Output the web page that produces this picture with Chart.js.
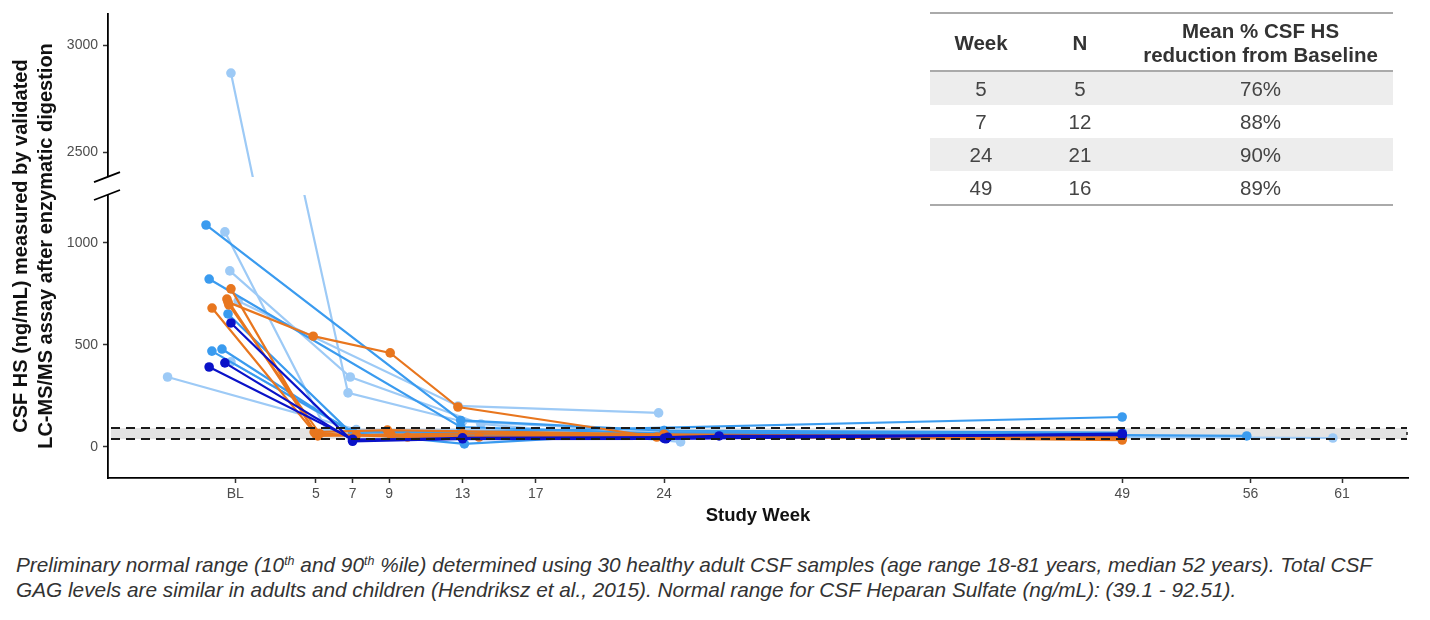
<!DOCTYPE html>
<html>
<head>
<meta charset="utf-8">
<script src="https://cdn.jsdelivr.net/npm/chart.js@4.4.0/dist/chart.umd.min.js"></script>
<style>
  body { margin: 0; background: #fff; font-family: "Liberation Sans", Arial, sans-serif; }
  #wrap { position: relative; width: 1430px; height: 535px; }
  #tbl { position: absolute; left: 930px; top: 12px; width: 463px; border-collapse: collapse;
         font-size: 20.5px; color: #444; border-top: 2px solid #aaa; border-bottom: 2px solid #aaa; }
  #tbl th { font-weight: bold; color: #333; height: 54px; line-height: 24px; padding: 2px 0 0 0;
            border-bottom: 2px solid #aaa; text-align: center; }
  #tbl td { height: 33px; padding: 0; text-align: center; }
  #tbl tr.alt td { background: #ededed; }
  #note { position: absolute; left: 16px; top: 552px; margin: 0; font-style: italic; font-size: 20.8px;
          line-height: 25px; color: #333; white-space: nowrap; }
  #note sup { font-size: 0.6em; vertical-align: 0.6em; line-height: 0; }
</style>
</head>
<body>
<div id="wrap">
  <canvas id="hsChart" width="1430" height="535"></canvas>
  <table id="tbl">
    <thead>
      <tr><th style="width:102px">Week</th><th style="width:96px">N</th><th>Mean % CSF HS<br>reduction from Baseline</th></tr>
    </thead>
    <tbody></tbody>
  </table>
</div>
<p id="note">Preliminary normal range (10<sup>th</sup> and 90<sup>th</sup> %ile) determined using 30 healthy adult CSF samples (age range 18-81 years, median 52 years). Total CSF<br>GAG levels are similar in adults and children (Hendriksz et al., 2015). Normal range for CSF Heparan Sulfate (ng/mL): (39.1 - 92.51).</p>

<script>
// axis ticks
const xTickValues = [0.6, 5, 7, 9, 13, 17, 24, 49, 56, 61];
const xTickLabels = ['BL', '5', '7', '9', '13', '17', '24', '49', '56', '61'];
const yLowTicks = [0, 500, 1000];
const yHighTicks = [2500, 3000];
const normalRange = [39.1, 92.51];

// table
const tableWeeks = [5, 7, 24, 49];
const tableN = [5, 12, 21, 16];
const tableReduction = ['76%', '88%', '90%', '89%'];

// subjects (group = colour cohort)
const subjectGroup = ['light', 'light', 'light', 'light', 'light', 'light',
                      'mid', 'mid', 'mid', 'mid', 'mid',
                      'orange', 'orange', 'orange', 'orange', 'orange',
                      'dark', 'dark', 'dark'];
const subjectWeeks = [
    [0.36, 6.75, 13.0, 24, 49],
    [0.03, 5.6, 13, 24, 49],
    [0.75, 12.75, 23.7],
    [0.3, 6.87, 14.0, 24.9],
    [0.36, 7, 13, 24, 49],
    [-3.1, 7.2, 24, 49, 60.5],
    [-1.0, 12.9, 24, 49],
    [-0.83, 12.9, 24, 49],
    [0.2, 7, 13, 24, 49, 55.8],
    [-0.13, 7, 13.1, 24, 49],
    [-0.68, 7, 12.9, 49],
    [0.2, 4.85, 9.05, 12.75, 23.6, 49],
    [0.36, 4.9, 8.9, 24, 49],
    [0.14, 5.1, 9.1, 13.9, 24, 49],
    [-0.67, 5.0, 10.0, 24, 49],
    [0.25, 5.2, 7.2, 13, 24],
    [0.36, 7, 13, 24, 49],
    [0.03, 7, 13, 24.2, 27, 49],
    [-0.83, 7, 24.1, 49]
];
const subjectValues = [
    [2869, 265, 125, 75, 60],
    [1054, 78, 62, 60, 55],
    [715, 201, 167],
    [863, 343, 113, 25],
    [417, 72, 55, 68, 62],
    [343, 85, 80, 50, 44],
    [1088, 130, 80, 70],
    [823, 98, 65, 62],
    [652, 62, 58, 52, 58, 54],
    [480, 68, 15, 70, 65],
    [470, 75, 72, 147],
    [710, 543, 461, 196, 49, 40],
    [775, 73, 83, 62, 45],
    [725, 54, 59, 49, 55, 34],
    [681, 62, 49, 58, 52],
    [696, 66, 58, 65, 60],
    [608, 28, 40, 42, 62],
    [412, 33, 45, 48, 54, 58],
    [392, 38, 40, 65]
];

// broken y axis: lower panel and upper panel ranges
const lowMin = -152, lowMax = 2122, lowBreak = 1235;
const highMin = 977, highMax = 3145, highBreak = 2383;

const groupColors = { light: '#9dcaf6', mid: '#3a9bef', orange: '#e8761e', dark: '#0a12c8' };
const groupOrder = { light: 4, mid: 3, orange: 2, dark: 1 };
const tickFont = { family: 'Liberation Sans', size: 14 };

function highToLow(v) {
    return lowMin + (v - highMin) * (lowMax - lowMin) / (highMax - highMin);
}
function lowToHigh(v) {
    return highMin + (v - lowMin) * (highMax - highMin) / (lowMax - lowMin);
}

// fill the table
const tbody = document.querySelector('#tbl tbody');
tableWeeks.forEach((w, i) => {
    const row = document.createElement('tr');
    if (i % 2 === 0) row.className = 'alt';
    [w, tableN[i], tableReduction[i]].forEach(t => {
        const cell = document.createElement('td');
        cell.textContent = t;
        row.appendChild(cell);
    });
    tbody.appendChild(row);
});

// each subject is drawn in both panels, each clipped to its own panel
const datasets = [];
['low', 'high'].forEach(panel => {
    subjectGroup.forEach((g, i) => {
        datasets.push({
            label: 'S' + (i + 1),
            panel: panel,
            yAxisID: panel === 'low' ? 'yLow' : 'yHigh',
            data: subjectWeeks[i].map((w, j) => ({ x: w, y: subjectValues[i][j] })),
            borderColor: groupColors[g],
            backgroundColor: groupColors[g],
            borderWidth: 2.2,
            pointRadius: 4.8,
            pointBorderWidth: 0,
            pointHoverRadius: 4.8,
            tension: 0,
            order: groupOrder[g]
        });
    });
});

const panelClip = {
    id: 'panelClip',
    beforeDatasetDraw(chart, args) {
        const ds = chart.data.datasets[args.index];
        let top = 0, bottom = chart.height;
        if (ds.panel === 'low') top = chart.scales.yLow.getPixelForValue(lowBreak);
        else bottom = chart.scales.yHigh.getPixelForValue(highBreak);
        const ctx = chart.ctx;
        ctx.save();
        ctx.beginPath();
        ctx.rect(0, top, chart.width, bottom - top);
        ctx.clip();
    },
    afterDatasetDraw(chart) {
        chart.ctx.restore();
    }
};

const normalBand = {
    id: 'normalBand',
    beforeDatasetsDraw(chart) {
        const { ctx, chartArea } = chart;
        const y = chart.scales.yLow;
        const y1 = y.getPixelForValue(normalRange[1]), y0 = y.getPixelForValue(normalRange[0]);
        ctx.save();
        ctx.fillStyle = '#e3e3e3';
        ctx.fillRect(chartArea.left + 3, y1, chartArea.right - chartArea.left - 4, y0 - y1);
        ctx.restore();
    },
    afterDatasetsDraw(chart) {
        const { ctx, chartArea } = chart;
        const y = chart.scales.yLow;
        const y1 = y.getPixelForValue(normalRange[1]), y0 = y.getPixelForValue(normalRange[0]);
        ctx.save();
        ctx.strokeStyle = '#1a1a1a';
        ctx.lineWidth = 2;
        ctx.setLineDash([9, 6]);
        ctx.beginPath();
        ctx.moveTo(chartArea.left + 3, y1); ctx.lineTo(chartArea.right - 1, y1);
        ctx.moveTo(chartArea.left + 3, y0); ctx.lineTo(chartArea.right - 1, y0);
        ctx.stroke();
        ctx.setLineDash([]);
        ctx.lineWidth = 1.5;
        ctx.beginPath();
        ctx.moveTo(chartArea.right - 1, y1 + 4); ctx.lineTo(chartArea.right - 1, y0 - 4);
        ctx.stroke();
        ctx.restore();
    }
};

// gap and "//" marks on the y axis
const axisBreak = {
    id: 'axisBreak',
    afterDraw(chart) {
        const { ctx, chartArea } = chart;
        const gapTop = chart.scales.yHigh.getPixelForValue(highBreak);
        const gapBottom = chart.scales.yLow.getPixelForValue(lowBreak);
        const x = chartArea.left;
        ctx.save();
        ctx.fillStyle = '#fff';
        ctx.fillRect(x - 3, gapTop, 6, gapBottom - gapTop);
        ctx.strokeStyle = '#000';
        ctx.lineWidth = 1.8;
        ctx.beginPath();
        ctx.moveTo(x - 14, gapTop + 5); ctx.lineTo(x + 12, gapTop - 5);
        ctx.moveTo(x - 14, gapBottom + 5); ctx.lineTo(x + 12, gapBottom - 5);
        ctx.stroke();
        ctx.restore();
    }
};

new Chart(document.getElementById('hsChart'), {
    type: 'line',
    data: { datasets: datasets },
    plugins: [panelClip, normalBand, axisBreak],
    options: {
        responsive: false,
        animation: false,
        events: [],
        layout: { padding: { top: 14, right: 22, left: 0, bottom: 0 } },
        plugins: { legend: { display: false }, tooltip: { enabled: false } },
        scales: {
            x: {
                type: 'linear',
                min: -6.35,
                max: 64.6,
                afterBuildTicks: s => { s.ticks = xTickValues.map(v => ({ value: v })); },
                afterFit: s => { s.height = 57; },
                ticks: {
                    autoSkip: false,
                    maxRotation: 0,
                    padding: 3,
                    color: '#4d4d4d',
                    font: tickFont,
                    callback: v => xTickLabels[xTickValues.indexOf(v)]
                },
                grid: { drawOnChartArea: false, tickLength: 5, tickColor: '#333', tickWidth: 1.5 },
                border: { display: true, color: '#000', width: 1.8 },
                title: {
                    display: true,
                    text: 'Study Week',
                    color: '#111',
                    font: { family: 'Liberation Sans', size: 18.5, weight: 'bold' },
                    padding: { top: 0, bottom: 8 }
                }
            },
            yLow: {
                type: 'linear',
                position: 'left',
                min: lowMin,
                max: lowMax,
                afterBuildTicks: s => {
                    s.ticks = yLowTicks.map(v => ({ value: v }))
                        .concat(yHighTicks.map(v => ({ value: highToLow(v) })));
                },
                afterFit: s => { s.width = 108; },
                ticks: {
                    autoSkip: false,
                    padding: 5,
                    color: '#4d4d4d',
                    font: tickFont,
                    callback: v => v > lowBreak ? String(Math.round(lowToHigh(v))) : String(v)
                },
                grid: { drawOnChartArea: false, tickLength: 5, tickColor: '#333', tickWidth: 1.5 },
                border: { display: true, color: '#000', width: 1.8 },
                title: {
                    display: true,
                    text: ['CSF HS (ng/mL) measured by validated', 'LC-MS/MS assay after enzymatic digestion'],
                    color: '#111',
                    font: { family: 'Liberation Sans', size: 20, weight: 'bold', lineHeight: '25px' },
                    padding: { top: 9, bottom: 0 }
                }
            },
            yHigh: {
                type: 'linear',
                display: false,
                min: highMin,
                max: highMax
            }
        }
    }
});
</script>
</body>
</html>
